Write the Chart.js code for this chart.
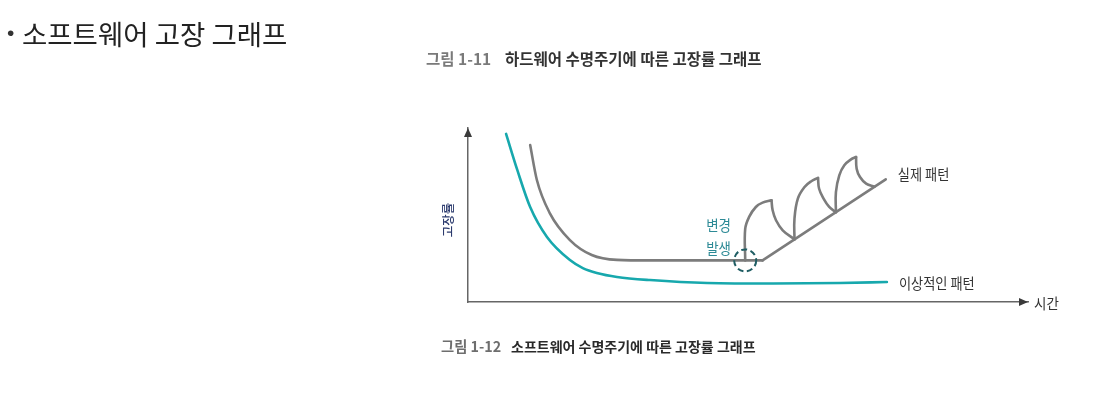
<!DOCTYPE html>
<html><head><meta charset="utf-8">
<script src="https://cdn.jsdelivr.net/npm/chart.js@4.4.1/dist/chart.umd.min.js"></script>
<style>
html,body{margin:0;padding:0;background:#fff;width:1095px;height:398px;overflow:hidden;}
#wrap{position:relative;width:1095px;height:398px;}
canvas{position:absolute;left:0;top:0;}
.t{position:absolute;white-space:pre;font-family:"Noto Sans CJK KR","Noto Sans",sans-serif;}
</style></head><body>
<div id="wrap">
<canvas id="c" width="1095" height="398"></canvas>
<div class="t" style="left:7px;top:19px;font-size:21px;line-height:27px;color:#333;font-family:'Liberation Sans',sans-serif">•</div>
<div class="t" style="left:22px;top:19px;font-size:27.5px;line-height:28px;color:#222">소프트웨어 고장 그래프</div>
<div class="t" style="left:426px;top:51px;font-size:15.5px;line-height:15px;font-weight:700;color:#7a7a7a">그림 1-11</div>
<div class="t" style="left:505px;top:51px;font-size:15.5px;line-height:15px;font-weight:700;color:#333">하드웨어 수명주기에 따른 고장률 그래프</div>
<div class="t" style="left:441px;top:339px;font-size:14.3px;line-height:14px;font-weight:700;color:#6e6e6e">그림 1-12</div>
<div class="t" style="left:511px;top:339px;font-size:14px;line-height:14px;font-weight:700;color:#2a2a2a">소프트웨어 수명주기에 따른 고장률 그래프</div>
</div>
<script>
// ---- data (time on x, failure rate on y, both 0..100) ----
const idealX = [6.8, 8.8, 11.1, 14.1, 18.2, 20.5, 23.0, 26.6, 32.5, 42.7, 54.5, 66.4, 74.8];
const idealY = [96.6, 75.9, 54.6, 37.4, 24.1, 19.5, 16.7, 14.4, 12.6, 10.9, 10.6, 10.9, 11.5];
const actualX = [11.1, 12.3, 14.6, 18.2, 22.1, 26.6, 32.5, 41.4, 49.5, 52.6];
const actualY = [90.2, 70.1, 51.1, 35.6, 27.0, 24.2, 23.9, 23.9, 23.9, 23.9];
const wearX = [52.6, 74.6];
const wearY = [23.9, 70.5];
const rise1X = [49.5, 49.5, 50.2, 51.4, 52.6, 54.2];
const rise1Y = [23.9, 42.0, 48.9, 54.6, 57.1, 58.4];
const fall1X = [54.2, 54.4, 55.0, 56.2, 58.3];
const fall1Y = [58.4, 52.7, 47.0, 41.2, 36.0];
const rise2X = [58.3, 58.3, 58.9, 60.1, 61.3, 62.5];
const rise2Y = [36.0, 47.9, 59.4, 66.1, 69.4, 71.3];
const fall2X = [62.5, 62.7, 63.5, 64.5, 65.7];
const fall2Y = [71.3, 65.1, 59.4, 54.6, 51.6];
const rise3X = [65.7, 65.7, 66.3, 67.2, 68.4, 69.3];
const rise3Y = [51.6, 63.2, 72.8, 78.6, 82.0, 83.3];
const fall3X = [69.3, 69.4, 70.0, 71.1, 72.6];
const fall3Y = [83.3, 76.6, 71.8, 68.0, 66.3];
const changeX = [49.5];
const changeY = [23.9];
const seriesNames = ['이상적인 패턴', '실제 패턴'];
const changeLabel = ['변경', '발생'];
const axisTitles = ['시간', '고장률'];

const TEAL = '#17a8ad', GRAY = '#7c7c7c';
const pts = (xs, ys) => xs.map((x, i) => ({x, y: ys[i]}));
function ds(xs, ys, color, extra) {
  return Object.assign({data: pts(xs, ys), borderColor: color, borderWidth: 2.6, pointRadius: 0,
    showLine: true, fill: false, borderCapStyle: 'round', borderJoinStyle: 'round'}, extra || {});
}

function drawText(ctx, text, px, py, size, weight, color, sx, rot) {
  ctx.save();
  ctx.translate(px, py);
  if (rot) ctx.rotate(rot);
  ctx.scale(sx, 1);
  ctx.font = weight + ' ' + size + 'px "Noto Sans CJK KR", "Noto Sans", sans-serif';
  ctx.fillStyle = color;
  ctx.textBaseline = 'middle';
  ctx.textAlign = rot ? 'center' : 'left';
  ctx.fillText(text, 0, 0);
  ctx.restore();
}

const deco = {
  id: 'deco',
  afterDatasetsDraw(chart) {
    const {ctx, chartArea: a, scales: {x, y}} = chart;
    ctx.save();
    ctx.fillStyle = '#3a3a3a';
    ctx.beginPath(); ctx.moveTo(a.left, a.top); ctx.lineTo(a.left - 4, a.top + 9); ctx.lineTo(a.left + 4, a.top + 9); ctx.closePath(); ctx.fill();
    ctx.beginPath(); ctx.moveTo(a.right, a.bottom); ctx.lineTo(a.right - 9, a.bottom - 4); ctx.lineTo(a.right - 9, a.bottom + 4); ctx.closePath(); ctx.fill();
    const cx = x.getPixelForValue(changeX[0]), cy = y.getPixelForValue(changeY[0]);
    ctx.setLineDash([6, 3.5]); ctx.strokeStyle = '#1f5d63'; ctx.lineWidth = 2;
    ctx.beginPath(); ctx.arc(cx, cy, 11, 0, Math.PI * 2); ctx.stroke();
    ctx.restore();
    const iEnd = idealX.length - 1;
    drawText(ctx, seriesNames[0], x.getPixelForValue(idealX[iEnd]) + 12, y.getPixelForValue(idealY[iEnd]) + 1, 15, 400, '#333', 0.88);
    drawText(ctx, seriesNames[1], x.getPixelForValue(wearX[1]) + 12, y.getPixelForValue(wearY[1]) - 5, 15, 400, '#333', 0.88);
    drawText(ctx, changeLabel[0], cx - 39, cy - 35, 15, 400, '#2d8a96', 0.9);
    drawText(ctx, changeLabel[1], cx - 39, cy - 12, 15, 400, '#2d8a96', 0.9);
    drawText(ctx, axisTitles[0], a.right + 6, a.bottom + 1, 15, 400, '#333', 0.9);
    drawText(ctx, axisTitles[1], a.left - 20, (a.top + a.bottom) / 2 + 5, 12.5, 500, '#2c3b6e', 1, -Math.PI / 2);
  }
};

new Chart(document.getElementById('c'), {
  type: 'scatter',
  data: {datasets: [
    ds(idealX, idealY, TEAL, {cubicInterpolationMode: 'monotone'}),
    ds(actualX, actualY, GRAY, {cubicInterpolationMode: 'monotone'}),
    ds(wearX, wearY, GRAY, {tension: 0}),
    ds(rise1X, rise1Y, GRAY, {tension: 0.4}),
    ds(fall1X, fall1Y, GRAY, {tension: 0.4}),
    ds(rise2X, rise2Y, GRAY, {tension: 0.4}),
    ds(fall2X, fall2Y, GRAY, {tension: 0.4}),
    ds(rise3X, rise3Y, GRAY, {tension: 0.4}),
    ds(fall3X, fall3Y, GRAY, {tension: 0.4})
  ]},
  options: {
    responsive: false, animation: false, devicePixelRatio: 1,
    layout: {padding: {left: 468, top: 128, right: 67, bottom: 96}},
    plugins: {legend: {display: false}, tooltip: {enabled: false}, title: {display: false}},
    scales: {
      x: {type: 'linear', min: 0, max: 100, ticks: {display: false}, grid: {display: false, drawTicks: false}, border: {display: true, color: '#666', width: 1.5}},
      y: {type: 'linear', min: 0, max: 100, ticks: {display: false}, grid: {display: false, drawTicks: false}, border: {display: true, color: '#666', width: 1.5}}
    }
  },
  plugins: [deco]
});
</script>
</body></html>
